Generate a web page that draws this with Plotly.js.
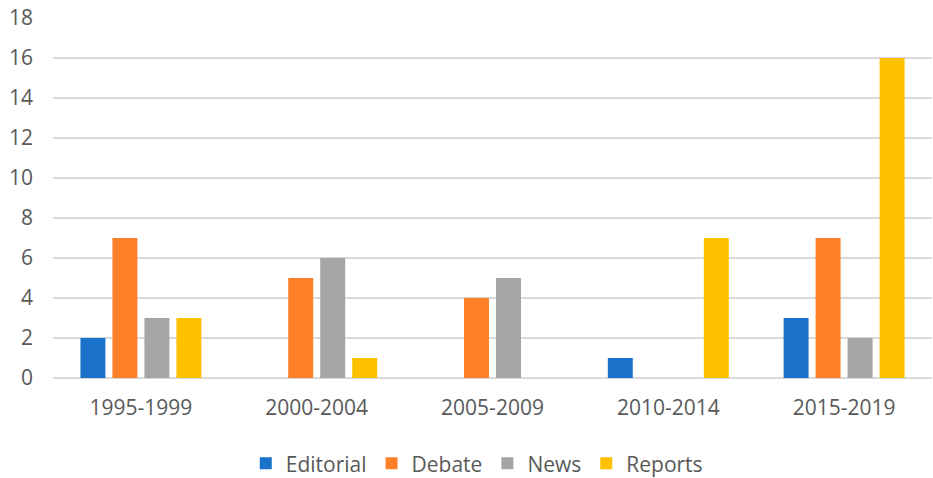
<!DOCTYPE html>
<html>
<head>
<meta charset="utf-8">
<script src="https://cdn.plot.ly/plotly-3.0.1.min.js"></script>
<style>html,body{margin:0;padding:0;background:#fff;}#chart{width:933px;height:478px;}</style>
</head>
<body>
<div id="chart"></div>
<script>
const categories = ["1995-1999", "2000-2004", "2005-2009", "2010-2014", "2015-2019"];
const editorial = [2, 0, 0, 1, 3];
const debate = [7, 5, 4, 0, 7];
const news = [3, 6, 5, 0, 2];
const reports = [3, 1, 0, 7, 16];
const seriesNames = ["Editorial", "Debate", "News", "Reports"];
const seriesColors = ["#1A71C9", "#FD7F28", "#A5A5A5", "#FFC000"];
const seriesValues = [editorial, debate, news, reports];

const traces = seriesValues.map((vals, i) => ({
  type: "bar",
  name: seriesNames[i],
  x: categories,
  y: vals,
  marker: { color: seriesColors[i], line: { width: 0 } },
  hoverinfo: "x+y+name"
}));

const font = { family: "'Open Sans', sans-serif", size: 21, color: "#595959" };

const layout = {
  width: 933,
  height: 478,
  margin: { l: 53, r: 1, t: 18, b: 100 },
  paper_bgcolor: "#ffffff",
  plot_bgcolor: "#ffffff",
  font: font,
  barmode: "group",
  bargap: 0.272,
  bargroupgap: 0.22,
  showlegend: true,
  legend: {
    orientation: "h",
    x: 0.511,
    xanchor: "center",
    xref: "container",
    y: 0.03,
    yanchor: "middle",
    yref: "container",
    font: font,
    itemclick: false
  },
  xaxis: {
    type: "category",
    showgrid: false,
    zeroline: false,
    showline: false,
    ticks: "",
    tickfont: font,
    ticklabelstandoff: 15
  },
  yaxis: {
    range: [0, 18],
    dtick: 2,
    tick0: 0,
    showgrid: true,
    gridcolor: "#D9D9D9",
    gridwidth: 1.5,
    zeroline: true,
    zerolinecolor: "#D9D9D9",
    zerolinewidth: 1.5,
    showline: false,
    ticks: "",
    tickfont: font,
    ticklabelstandoff: 19
  }
};

Plotly.newPlot("chart", traces, layout, { displayModeBar: false, staticPlot: true });
</script>
</body>
</html>
